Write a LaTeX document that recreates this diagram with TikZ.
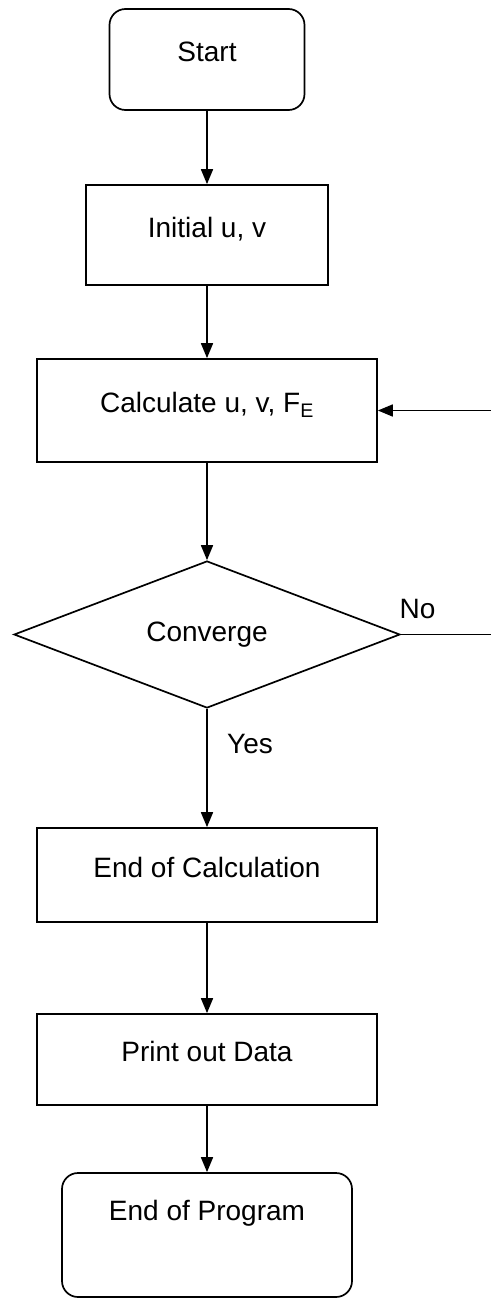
\documentclass[tikz,border=0pt]{standalone}
\usepackage{fontspec}
\setmainfont{Liberation Sans}
\usetikzlibrary{shapes.geometric,arrows.meta}
\begin{document}
\begin{tikzpicture}[x=1pt, y=-1pt, line width=1.7pt,
    every node/.style={font=\fontsize{28}{34}\selectfont},
    box/.style={draw, rectangle, inner sep=0pt, text height=20pt, text depth=16pt},
    term/.style={box, rounded corners=16pt},
    test/.style={draw, diamond, aspect=2.6, inner sep=0pt},
    flow/.style={-{Triangle[width=12pt,length=15pt]}}]
    \useasboundingbox (0,0) rectangle (490,1300);
    \node[term, minimum width=195pt, minimum height=101pt] (start) at (207,59.5) {Start};
    \node[box, minimum width=242pt, minimum height=100pt] (init) at (207,235) {Initial u, v};
    \node[box, minimum width=340pt, minimum height=103pt] (calc) at (207,410.5) {Calculate u, v, F\textsubscript{E}};
    \node[test, minimum width=386pt, minimum height=147pt] (conv) at (207,634.5) {Converge};
    \node[box, minimum width=340pt, minimum height=94pt] (endcalc) at (207,875) {End of Calculation};
    \node[box, minimum width=340pt, minimum height=91pt] (print) at (207,1059.5) {Print out Data};
    \node[term, minimum width=290pt, minimum height=124pt, text depth=50pt] (endprog) at (207,1235) {End of Program};
    \coordinate (loop) at (494,634.5);
    \draw[flow] (start) -- (init);
    \draw[flow] (init) -- (calc);
    \draw[flow] (calc) -- (conv);
    \draw[flow] (conv) -- node[pos=0.3, right=16pt] (yes) {Yes} (endcalc);
    \draw[flow] (conv.east) -- node[pos=0.18, above=12pt] (no) {No} (loop) |- (calc.east);
    \draw[flow] (endcalc) -- (print);
    \draw[flow] (print) -- (endprog);
\end{tikzpicture}
\end{document}
